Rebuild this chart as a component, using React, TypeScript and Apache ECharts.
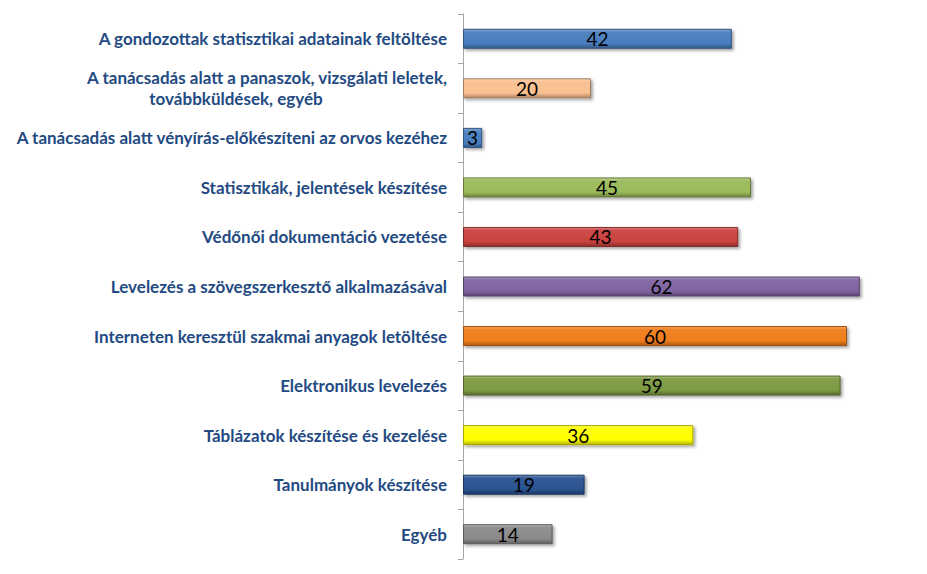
import React, { useEffect, useRef } from "react";
import * as echarts from "echarts";

const categories: string[] = [
  "A gondozottak statisztikai adatainak feltöltése",
  "A tanácsadás alatt a panaszok, vizsgálati leletek,\ntovábbküldések, egyéb",
  "A tanácsadás alatt vényírás-előkészíteni az orvos kezéhez",
  "Statisztikák, jelentések készítése",
  "Védőnői dokumentáció vezetése",
  "Levelezés a szövegszerkesztő alkalmazásával",
  "Interneten keresztül szakmai anyagok letöltése",
  "Elektronikus levelezés",
  "Táblázatok készítése és kezelése",
  "Tanulmányok készítése",
  "Egyéb",
];

const values: number[] = [42, 20, 3, 45, 43, 62, 60, 59, 36, 19, 14];

const barColors: string[] = [
  "#4a7ebf",
  "#fac090",
  "#4a7ebf",
  "#9bbb59",
  "#c9423f",
  "#8064a2",
  "#f07d1c",
  "#7c9a42",
  "#ffff00",
  "#2a5291",
  "#8a8a8a",
];

function shade(hex: string, amt: number): string {
  const n = parseInt(hex.slice(1), 16);
  let r = (n >> 16) & 255;
  let g = (n >> 8) & 255;
  let b = n & 255;
  if (amt >= 0) {
    r = Math.round(r + (255 - r) * amt);
    g = Math.round(g + (255 - g) * amt);
    b = Math.round(b + (255 - b) * amt);
  } else {
    r = Math.round(r * (1 + amt));
    g = Math.round(g * (1 + amt));
    b = Math.round(b * (1 + amt));
  }
  return "rgb(" + r + "," + g + "," + b + ")";
}

const labelFont = {
  color: "#234a82",
  fontFamily: "Lato",
  fontWeight: "bold" as const,
  fontSize: 17,
  lineHeight: 21,
};

export default function App() {
  const ref = useRef<HTMLDivElement>(null);
  useEffect(() => {
    if (!ref.current) return;
    const chart = echarts.init(ref.current, undefined, { renderer: "svg" });
    chart.setOption({
      animation: false,
      backgroundColor: "#ffffff",
      grid: { left: 463, right: 16, top: 14, bottom: 15, containLabel: false },
      xAxis: {
        type: "value",
        min: 0,
        max: 70,
        show: false,
      },
      yAxis: {
        type: "category",
        inverse: true,
        data: categories,
        axisLine: { show: true, lineStyle: { color: "#a6a6a6", width: 1 } },
        axisTick: { show: true, length: 5, lineStyle: { color: "#a6a6a6" } },
        axisLabel: {
          margin: 16,
          ...labelFont,
          align: "right",
          formatter: (v: string) => {
            const parts = v.split("\n");
            if (parts.length < 2) return v;
            return "{a|" + parts[0] + "}\n{b|" + parts[1] + "}";
          },
          rich: {
            a: { ...labelFont },
            b: { ...labelFont, width: 422, align: "center" },
          },
        },
        splitLine: { show: false },
      },
      series: [
        {
          type: "bar",
          barWidth: 20,
          data: values.map((v, i) => ({
            value: v,
            itemStyle: {
              color: {
                type: "linear",
                x: 0,
                y: 0,
                x2: 0,
                y2: 1,
                colorStops: [
                  { offset: 0, color: shade(barColors[i], 0.35) },
                  { offset: 0.15, color: shade(barColors[i], 0.05) },
                  { offset: 0.75, color: barColors[i] },
                  { offset: 1, color: shade(barColors[i], -0.3) },
                ],
              },
              borderColor: shade(barColors[i], -0.35),
              borderWidth: 1,
              shadowColor: "rgba(0,0,0,0.35)",
              shadowBlur: 3,
              shadowOffsetX: 2,
              shadowOffsetY: 2,
            },
          })),
          label: {
            show: true,
            position: "inside",
            color: "#000000",
            fontFamily: "Lato",
            fontSize: 19,
          },
        },
      ],
    });
    return () => chart.dispose();
  }, []);
  return <div ref={ref} style={{ width: 927, height: 574, margin: -8 }} />;
}
